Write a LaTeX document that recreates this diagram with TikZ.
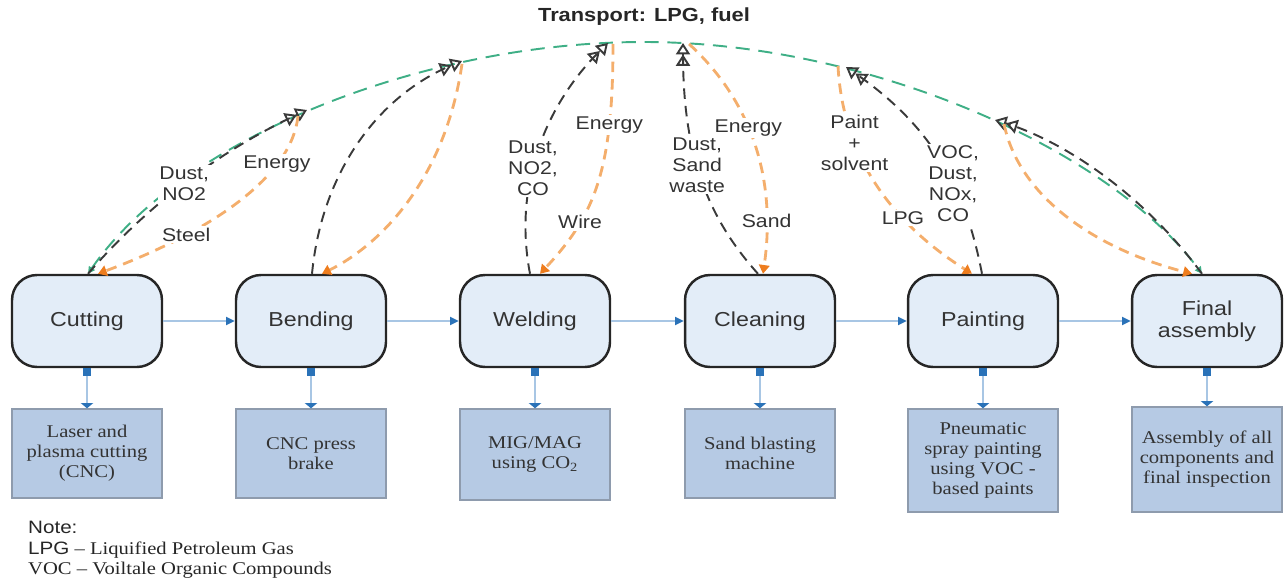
\documentclass[tikz,border=0pt]{standalone}
\usepackage{fontspec}
\setmainfont{Liberation Serif}[FakeStretch=1.15]
\setsansfont{Liberation Sans}[FakeStretch=1.15]
\usetikzlibrary{arrows.meta}

\definecolor{procfill}{HTML}{E3EDF8}
\definecolor{toolfill}{HTML}{B6CAE4}
\definecolor{toolline}{HTML}{8E9BAD}
\definecolor{flowline}{HTML}{A8C6E4}
\definecolor{flowtip}{HTML}{2A72B8}
\definecolor{arcgreen}{HTML}{3FAF86}
\definecolor{emit}{HTML}{3A3A3A}
\definecolor{feed}{HTML}{F4AE6C}
\definecolor{feedtip}{HTML}{EE7D1E}
\definecolor{labtext}{HTML}{333333}

\tikzset{
  proc/.style={draw=black!85, line width=1.4pt, rounded corners=0.5cm, fill=procfill,
    minimum width=3cm, minimum height=1.84cm, align=center, text=labtext,
    font=\sffamily\fontsize{11.5}{12.5}\selectfont},
  tool/.style={draw=toolline, line width=0.8pt, fill=toolfill, minimum width=3cm,
    align=center, text=black!80, font=\rmfamily\fontsize{10.2}{11.4}\selectfont},
  flow/.style={draw=flowline, line width=1.2pt, -{Triangle[length=5pt,width=4.5pt,color=flowtip]}},
  drop/.style={draw=flowline, line width=1.2pt,
    {Square[length=4.5pt,width=4.5pt,color=flowtip]}-{Triangle[length=3pt,width=7pt,color=flowtip]}},
  transport/.style={draw=arcgreen, line width=1.1pt, dash pattern=on 8pt off 5pt,
    {Triangle[length=4pt,width=4pt]}-{Triangle[length=4pt,width=4pt]}},
  emission/.style={draw=emit, line width=1.1pt, dash pattern=on 6pt off 4pt,
    -{Triangle[open,length=6.5pt,width=8pt] Triangle[open,length=6.5pt,width=8pt]}},
  feedline/.style={draw=feed, line width=1.6pt, dash pattern=on 6pt off 4pt,
    -{Triangle[length=5pt,width=6pt,color=feedtip]}},
  lab/.style={fill=white, inner sep=1pt, align=center, text=labtext,
    font=\sffamily\fontsize{10.5}{11.8}\selectfont},
}

\begin{document}
\begin{tikzpicture}[x=0.02cm, y=-0.02cm]
\useasboundingbox (0,0) rectangle (1285,581);

% title
\node[font=\sffamily\bfseries\fontsize{10.8}{12}\selectfont, text=black!85] (title) at (644,17) {Transport: LPG, fuel};

% process steps
\node[proc] (cut)   at (87,321)  {Cutting};
\node[proc] (bend)  at (311,321) {Bending};
\node[proc] (weld)  at (535,321) {Welding};
\node[proc] (clean) at (760,321) {Cleaning};
\node[proc] (paint) at (983,321) {Painting};
\node[proc] (final) at (1207,321) {Final\\assembly};

% equipment / method boxes
\node[tool, minimum height=1.78cm] (cutT)   at (87,453.5)  {Laser and\\plasma cutting\\(CNC)};
\node[tool, minimum height=1.78cm] (bendT)  at (311,453.5) {CNC press\\brake};
\node[tool, minimum height=1.82cm] (weldT)  at (535,454.5) {MIG/MAG\\using CO\textsubscript{2}};
\node[tool, minimum height=1.78cm] (cleanT) at (760,453.5) {Sand blasting\\machine};
\node[tool, minimum height=2.06cm] (paintT) at (983,460.5) {Pneumatic\\spray painting\\using VOC -\\based paints};
\node[tool, minimum height=2.1cm]  (finalT) at (1207,459.5) {Assembly of all\\components and\\final inspection};

% process flow
\draw[flow] (cut.east) -- (bend.west);
\draw[flow] (bend.east) -- (weld.west);
\draw[flow] (weld.east) -- (clean.west);
\draw[flow] (clean.east) -- (paint.west);
\draw[flow] (paint.east) -- (final.west);

\draw[drop] (cut.south) -- (cutT.north);
\draw[drop] (bend.south) -- (bendT.north);
\draw[drop] (weld.south) -- (weldT.north);
\draw[drop] (clean.south) -- (cleanT.north);
\draw[drop] (paint.south) -- (paintT.north);
\draw[drop] (final.south) -- (finalT.north);

% transport arc
\coordinate (apex) at (644,42);
\draw[transport] ([xshift=0.02cm]cut.north) .. controls (180,140) and (420,42) .. (apex)
  .. controls (870,42) and (1110,150) .. ([xshift=-0.1cm]final.north);

% points on the arc
\coordinate (cutOut)   at (307,110);
\coordinate (cutIn)    at (298,116);
\coordinate (bendOut)  at (462,61);
\coordinate (bendIn)   at (462,64);
\coordinate (weldOut)  at (608,43);
\coordinate (weldIn)   at (613,44);
\coordinate (cleanOut) at (683,43);
\coordinate (cleanIn)  at (689,44);
\coordinate (paintOut) at (846,67);
\coordinate (paintIn)  at (838,66);
\coordinate (finalOut) at (995,120);
\coordinate (finalIn)  at (1004,124);

% emissions (up to the arc)
\draw[emission] ([xshift=0.02cm]cut.north) .. controls (130,225) and (200,160) .. (cutOut)
  node[lab, pos=0.55] {Dust,\\NO2};
\draw[emission] ([xshift=0.02cm]bend.north) .. controls (322,170) and (380,95) .. (bendOut);
\draw[emission] ([xshift=-0.1cm]weld.north) .. controls (512,180) and (550,100) .. (weldOut)
  node[lab, pos=0.4] {Dust,\\NO2,\\CO};
\draw[emission] ([xshift=-0.04cm]clean.north) .. controls (705,215) and (683,150) .. (cleanOut)
  node[lab, pos=0.55] {Dust,\\Sand\\waste};
\draw[emission] ([xshift=-0.02cm]paint.north) .. controls (965,185) and (930,125) .. (paintOut)
  node[lab, pos=0.38] {VOC,\\Dust,\\NOx,\\CO};
\draw[emission] ([xshift=-0.1cm]final.north) .. controls (1140,190) and (1060,140) .. (finalOut);

% inputs (down from the arc)
\draw[feedline] (cutIn) .. controls (292,175) and (215,230) .. ([xshift=0.22cm]cut.north)
  node[lab, pos=0.28] {Energy} node[lab, pos=0.72] {Steel};
\draw[feedline] (bendIn) .. controls (445,180) and (380,245) .. ([xshift=0.22cm]bend.north);
\draw[feedline] (weldIn) .. controls (613,170) and (595,215) .. ([xshift=0.1cm]weld.north)
  node[lab, pos=0.25] {Energy} node[lab, pos=0.7] {Wire};
\draw[feedline] (cleanIn) .. controls (745,95) and (778,170) .. ([xshift=0.06cm]clean.north)
  node[lab, pos=0.45] {Energy} node[lab, pos=0.82] {Sand};
\draw[feedline] (paintIn) .. controls (843,160) and (895,225) .. ([xshift=-0.22cm]paint.north)
  node[lab, pos=0.3] {Paint\\+\\solvent} node[lab, pos=0.66] {LPG};
\draw[feedline] (finalIn) .. controls (1020,200) and (1100,250) .. ([xshift=-0.3cm]final.north);

% abbreviations
\node[anchor=west, align=left, text=black!85, font=\rmfamily\fontsize{10.2}{11.8}\selectfont] (note) at (22,550)
  {{\sffamily Note:}\\{\sffamily LPG} – Liquified Petroleum Gas\\VOC – Voiltale Organic Compounds};
\end{tikzpicture}
\end{document}
